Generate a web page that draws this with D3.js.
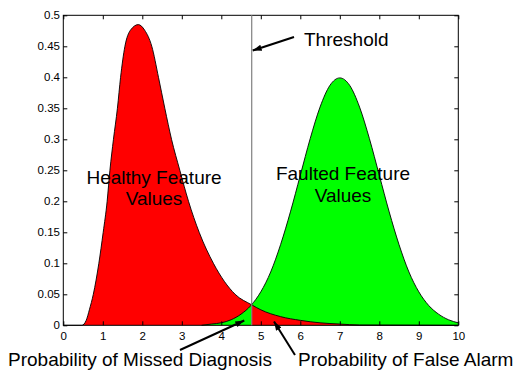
<!DOCTYPE html>
<html>
<head>
<meta charset="utf-8">
<script src="https://cdn.jsdelivr.net/npm/d3@7"></script>
<style>
  body { margin: 0; background: #fff; }
  text { font-family: "Liberation Sans", Arial, sans-serif; }
</style>
</head>
<body>
<script>
// curve readings
var healthyX = [0, 0.47, 0.58, 0.66, 0.76, 0.9, 1.01, 1.11, 1.18, 1.27, 1.37, 1.45, 1.56, 1.7, 1.9, 2.06, 2.24, 2.41, 2.57, 2.74, 2.95, 3.17, 3.44, 3.8, 4.35, 4.77, 5, 5.5, 6, 6.5, 7, 7.5, 10];
var healthyY = [0, 0, 0.008, 0.025, 0.05, 0.1, 0.15, 0.2, 0.25, 0.3, 0.35, 0.4, 0.45, 0.476, 0.485, 0.476, 0.45, 0.4, 0.35, 0.3, 0.25, 0.2, 0.15, 0.1, 0.05, 0.033, 0.025, 0.014, 0.008, 0.004, 0.002, 0.0005, 0];

var faultedX = [3.5, 3.75, 4, 4.25, 4.5, 4.75, 5, 5.25, 5.5, 5.75, 6, 6.25, 6.5, 6.75, 7, 7.25, 7.5, 7.75, 8, 8.25, 8.5, 8.75, 9, 9.25, 9.5, 9.75, 10];
var faultedY = [0, 0.002, 0.004, 0.009, 0.018, 0.032, 0.054, 0.086, 0.13, 0.183, 0.242, 0.301, 0.352, 0.387, 0.399, 0.387, 0.352, 0.301, 0.242, 0.183, 0.13, 0.086, 0.054, 0.032, 0.018, 0.009, 0.004];

var xTicks = [0, 1, 2, 3, 4, 5, 6, 7, 8, 9, 10];
var yTicks = [0, 0.05, 0.1, 0.15, 0.2, 0.25, 0.3, 0.35, 0.4, 0.45, 0.5];
var threshold = 4.77;

var width = 518,
    height = 371;

var x = d3.scaleLinear().domain([0, 10]).range([63.3, 458.3]);
var y = d3.scaleLinear().domain([0, 0.5]).range([325.3, 15.3]);

var svg = d3.select("body").append("svg")
    .attr("width", width)
    .attr("height", height);

var healthy = healthyX.map(function(d, i) { return [d, healthyY[i]]; });
var faulted = faultedX.map(function(d, i) { return [d, faultedY[i]]; });

var area = d3.area()
    .x(function(d) { return x(d[0]); })
    .y0(y(0))
    .y1(function(d) { return y(d[1]); })
    .curve(d3.curveMonotoneX);

var line = d3.line()
    .x(function(d) { return x(d[0]); })
    .y(function(d) { return y(d[1]); })
    .curve(d3.curveMonotoneX);

svg.append("clipPath").attr("id", "right")
  .append("rect")
    .attr("x", x(threshold))
    .attr("y", 0)
    .attr("width", x(10) - x(threshold))
    .attr("height", height);

function drawCurve(g, data, fill) {
  g.append("path").attr("d", area(data)).attr("fill", fill);
  g.append("path").attr("d", line(data))
      .attr("fill", "none")
      .attr("stroke", "#000")
      .attr("stroke-width", 0.9);
}

// red, then green over it, then red again right of the threshold
drawCurve(svg.append("g"), healthy, "#ff0000");
drawCurve(svg.append("g"), faulted, "#00ff00");
drawCurve(svg.append("g").attr("clip-path", "url(#right)"), healthy, "#ff0000");

// axes, MATLAB style ticks inside
svg.append("g")
    .attr("transform", "translate(0," + y(0) + ")")
    .call(d3.axisBottom(x).tickValues(xTicks).tickSizeInner(-4).tickSizeOuter(0).tickPadding(6.4));
svg.append("g")
    .attr("transform", "translate(0," + y(0.5) + ")")
    .call(d3.axisTop(x).tickValues(xTicks).tickSizeInner(-4).tickSizeOuter(0).tickFormat(""));
svg.append("g")
    .attr("transform", "translate(" + x(0) + ",0)")
    .call(d3.axisLeft(y).tickValues(yTicks).tickSizeInner(-4).tickSizeOuter(0).tickPadding(3.3)
      .tickFormat(function(d) { return d3.format("~g")(d); }));
svg.append("g")
    .attr("transform", "translate(" + x(10) + ",0)")
    .call(d3.axisRight(y).tickValues(yTicks).tickSizeInner(-4).tickSizeOuter(0).tickFormat(""));

svg.selectAll(".tick text")
    .style("font-family", "'Liberation Sans', Arial, sans-serif")
    .style("font-size", "11.5px")
    .attr("fill", "#000");
svg.selectAll(".domain").remove();

svg.append("rect")
    .attr("x", x(0))
    .attr("y", y(0.5))
    .attr("width", x(10) - x(0))
    .attr("height", y(0) - y(0.5))
    .attr("fill", "none")
    .attr("stroke", "#000");

// threshold line
svg.append("line")
    .attr("x1", x(threshold)).attr("x2", x(threshold))
    .attr("y1", y(0.5)).attr("y2", y(0))
    .attr("stroke", "#808080")
    .attr("stroke-width", 1.2);

// arrows
svg.append("defs").append("marker")
    .attr("id", "head")
    .attr("viewBox", "0 0 10 10")
    .attr("refX", 10).attr("refY", 5)
    .attr("markerWidth", 9).attr("markerHeight", 9)
    .attr("markerUnits", "userSpaceOnUse")
    .attr("orient", "auto")
  .append("path")
    .attr("d", "M0,1.5L10,5L0,8.5Z")
    .attr("fill", "#000");

var arrows = [
  [294, 37, 252.7, 50.5],
  [180, 350, 244.3, 320.5],
  [295, 355, 274, 321.5]
];
svg.selectAll(".arrow")
    .data(arrows)
  .enter().append("line")
    .attr("class", "arrow")
    .attr("x1", function(d) { return d[0]; })
    .attr("y1", function(d) { return d[1]; })
    .attr("x2", function(d) { return d[2]; })
    .attr("y2", function(d) { return d[3]; })
    .attr("stroke", "#000")
    .attr("stroke-width", 2)
    .attr("marker-end", "url(#head)");

// labels
var labels = [
  ["Threshold", 304, 46, "start"],
  ["Healthy Feature", 154, 183.5, "middle"],
  ["Values", 154, 205, "middle"],
  ["Faulted Feature", 343, 180, "middle"],
  ["Values", 343, 201.7, "middle"],
  ["Probability of Missed Diagnosis", 8, 366, "start"],
  ["Probability of False Alarm", 298, 366, "start"]
];
svg.selectAll(".label")
    .data(labels)
  .enter().append("text")
    .attr("class", "label")
    .attr("x", function(d) { return d[1]; })
    .attr("y", function(d) { return d[2]; })
    .attr("text-anchor", function(d) { return d[3]; })
    .style("font-size", "19px")
    .text(function(d) { return d[0]; });
</script>
</body>
</html>
